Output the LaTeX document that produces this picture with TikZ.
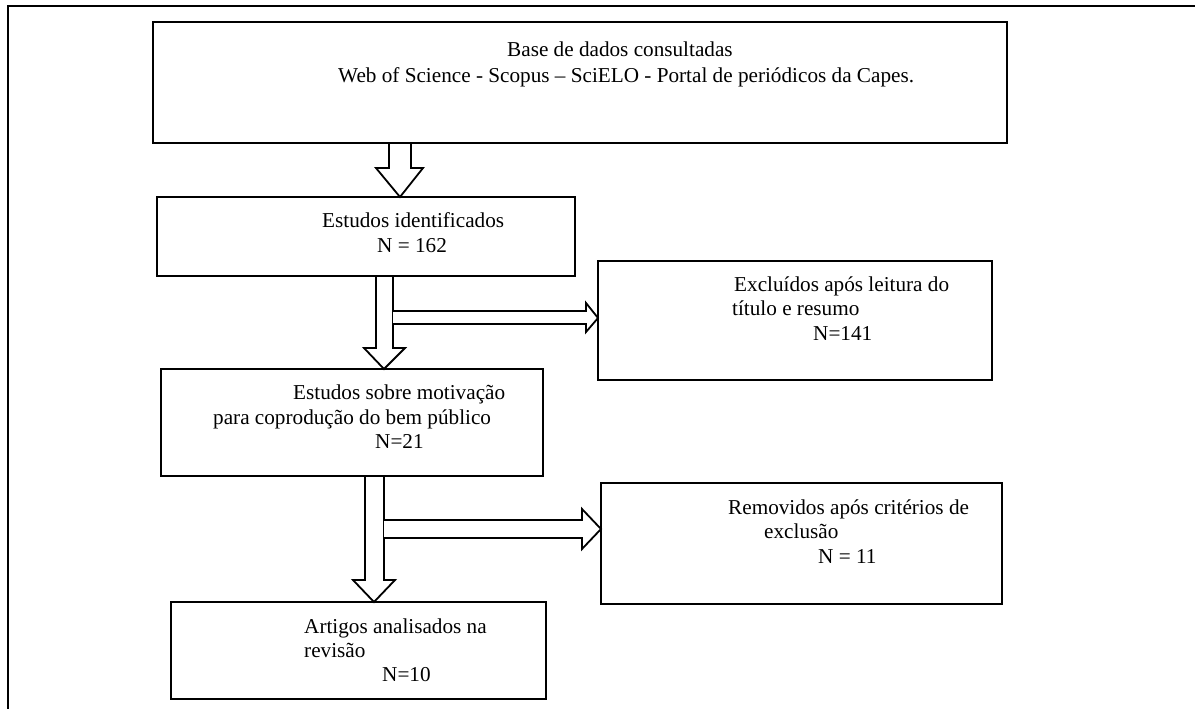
\documentclass[tikz,border=0pt]{standalone}
\usepackage{fontspec}
\setmainfont{Liberation Serif}
\begin{document}
\begin{tikzpicture}[x=1pt,y=-1pt,
  box/.style={draw=black,line width=1.8pt,fill=white,anchor=north west,inner sep=0pt,outer sep=0pt},
  txt/.style={anchor=base west,inner sep=0pt,font=\fontsize{21.2}{25}\selectfont},
  blockarrow/.style={draw=black,line width=1.8pt,fill=white,line join=miter}]
\useasboundingbox (0,0) rectangle (1195,709);
% outer frame
\draw[line width=1.4pt] (8,709) -- (8,6) -- (1195,6);
% boxes
\node[box,minimum width=854pt,minimum height=121pt] (b1) at (153,22) {};
\node[box,minimum width=418pt,minimum height=79pt] (b2) at (157,197) {};
\node[box,minimum width=394pt,minimum height=119pt] (b3) at (598,261) {};
\node[box,minimum width=382pt,minimum height=107pt] (b4) at (161,369) {};
\node[box,minimum width=401pt,minimum height=121pt] (b5) at (601,483) {};
\node[box,minimum width=375pt,minimum height=97pt] (b6) at (171,602) {};
% texts
\node[txt] (t1a) at (507,57) {Base de dados consultadas};
\node[txt] (t1b) at (338,82) {Web of Science - Scopus – SciELO - Portal de periódicos da Capes.};
\node[txt] (t2a) at (322,227) {Estudos identificados};
\node[txt] (t2b) at (377,252) {N = 162};
\node[txt] (t3a) at (734,291) {Excluídos após leitura do};
\node[txt] (t3b) at (732,315) {título e resumo};
\node[txt] (t3c) at (813,340) {N=141};
\node[txt] (t4a) at (293,399) {Estudos sobre motivação};
\node[txt] (t4b) at (213,424) {para coprodução do bem público};
\node[txt] (t4c) at (375,448) {N=21};
\node[txt] (t5a) at (728,514) {Removidos após critérios de};
\node[txt] (t5b) at (764,538) {exclusão};
\node[txt] (t5c) at (818,563) {N = 11};
\node[txt] (t6a) at (304,633) {Artigos analisados na};
\node[txt] (t6b) at (304,657) {revisão};
\node[txt] (t6c) at (382,681) {N=10};
% arrow connectors
\coordinate (a1e) at (b2.north -| 400,0);
\draw[blockarrow] (389,143) -- (389,168) -- (376,168) -- (a1e) -- (423,168) -- (411,168) -- (411,143) -- cycle;
\coordinate (a2e) at (b4.north -| 384,0);
\draw[blockarrow] (376,276) -- (376,348) -- (364,348) -- (a2e) -- (405,348) -- (393,348) -- (393,276) -- cycle;
\coordinate (h1e) at (b3.west |- 0,318);
\draw[blockarrow] (393,311) -- (586,311) -- (586,303) -- (h1e) -- (586,332) -- (586,324) -- (393,324);
\coordinate (a3e) at (b6.north -| 374,0);
\draw[blockarrow] (365,476) -- (365,580) -- (353,580) -- (a3e) -- (395,580) -- (384,580) -- (384,476) -- cycle;
\coordinate (h2e) at (b5.west |- 0,529);
\draw[blockarrow] (384,520) -- (582,520) -- (582,509) -- (h2e) -- (582,549) -- (582,538) -- (384,538);
\end{tikzpicture}
\end{document}
